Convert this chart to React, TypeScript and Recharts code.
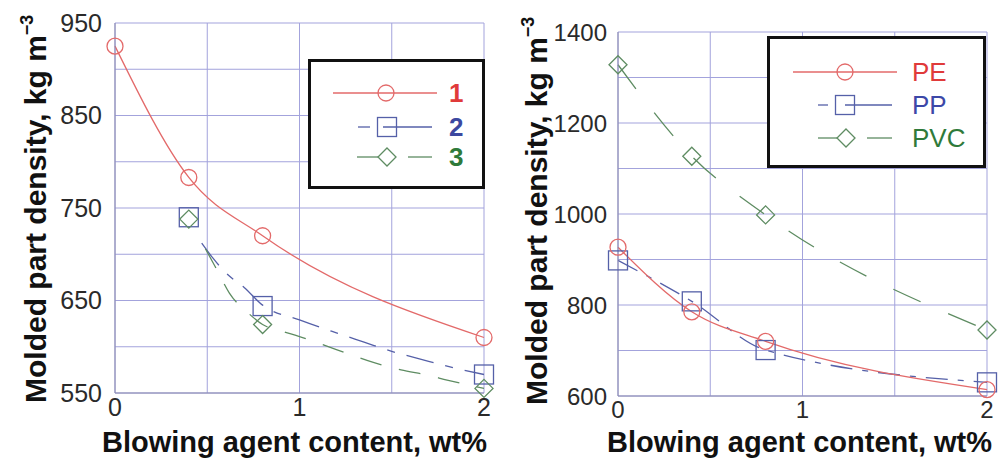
import React from "react";
import { ComposedChart, Line, XAxis, YAxis, CartesianGrid } from "recharts";

// left panel: samples 1, 2, 3
const leftX1 = [0, 0.4, 0.8, 2];
const leftY1 = [925, 783, 720, 610];
const leftX2 = [0.4, 0.8, 2];
const leftY2 = [740, 644, 570];
const leftX3 = [0.4, 0.8, 2];
const leftY3 = [738, 624, 555];
// fitted dashed curves
const fitX2 = [0.47, 0.53, 0.6, 0.7, 0.8, 1.0, 1.2, 1.35, 1.5, 1.65, 1.8, 2.0];
const fitY2 = [712, 696, 680, 664, 645, 629, 615, 605, 595, 587, 579, 570];
const fitX3 = [0.49, 0.55, 0.62, 0.73, 0.8, 0.9, 1.0, 1.2, 1.4, 1.55, 1.7, 1.8, 2.0];
const fitY3 = [706, 684, 658, 635, 624, 617, 611, 597, 583, 575, 569, 564, 555];

// right panel: PE, PP, PVC
const rightX = [0, 0.4, 0.8, 2];
const peY = [927, 785, 720, 614];
const ppY = [898, 808, 701, 630];
const pvcY = [1328, 1127, 998, 745];

const leftYTicks = [550, 650, 750, 850, 950];
const leftYGrid = [550, 600, 650, 700, 750, 800, 850, 900, 950];
const rightYTicks = [600, 800, 1000, 1200, 1400];
const rightYGrid = [600, 700, 800, 900, 1000, 1100, 1200, 1300, 1400];
const xTicks = [0, 1, 2];
const xGrid = [0, 0.5, 1, 1.5, 2];

const RED = "#e36a6a";
const BLUE = "#5560a8";
const GREEN = "#5e8c62";
const GRID = "#a3a3dc";
const FONT = "'Liberation Sans', Arial, sans-serif";

const pts = (xs: number[], ys: number[]) => xs.map((x, i) => ({ x, y: ys[i] }));

const circleAt = (cx: number, cy: number, k?: any) => (
  <circle key={k} cx={cx} cy={cy} r={8} fill="none" stroke={RED} strokeWidth={1.3} />
);
const squareAt = (cx: number, cy: number, k?: any) => (
  <rect key={k} x={cx - 9.5} y={cy - 9.5} width={19} height={19} fill="none" stroke={BLUE} strokeWidth={1.3} />
);
const diamondAt = (cx: number, cy: number, k?: any) => (
  <polygon
    key={k}
    points={`${cx},${cy - 9} ${cx + 9},${cy} ${cx},${cy + 9} ${cx - 9},${cy}`}
    fill="none"
    stroke={GREEN}
    strokeWidth={1.3}
  />
);

const dotOf = (fn: any) => (p: any) => (p.cx == null ? <g key={p.index} /> : fn(p.cx, p.cy, p.index));

const axisTick = (size: number) => ({ fill: "#2a2a2a", fontSize: size });

// plot box: left panel x 115..484, y 23..393; right panel x 118..487, y 32..396
const Panel = ({ width, yDomain, yTicks, yGrid, tickSize, top, plotH, yWidth, yMargin, children }: any) => (
  <ComposedChart width={width} height={461} margin={{ top, right: 16, bottom: 461 - 30 - top - plotH, left: 0 }}>
    <CartesianGrid stroke={GRID} strokeWidth={1} horizontalValues={yGrid} verticalValues={xGrid} />
    <XAxis
      type="number"
      dataKey="x"
      domain={[0, 2]}
      ticks={xTicks}
      height={30}
      tick={axisTick(tickSize)}
      tickLine={false}
      tickSize={4}
      tickMargin={1}
      axisLine={{ stroke: "#8a8ab0" }}
    />
    <YAxis
      type="number"
      domain={yDomain}
      ticks={yTicks}
      interval={0}
      width={yWidth}
      tick={axisTick(tickSize)}
      tickLine={false}
      tickSize={6}
      tickMargin={yMargin}
      axisLine={{ stroke: "#8a8ab0" }}
    />
    {children}
  </ComposedChart>
);

const markerLine = (data: any[], fn: any, key: string) => (
  <Line
    key={key}
    data={data}
    dataKey="y"
    stroke="none"
    dot={dotOf(fn)}
    activeDot={false}
    isAnimationActive={false}
  />
);

const yTitle = (x: number, y: number) => (
  <text transform={`translate(${x},${y}) rotate(-90)`} fontSize={30} fontWeight="bold" fill="#111">
    Molded part density, kg m
    <tspan dy={-13} fontSize={18}>
      −3
    </tspan>
  </text>
);

const App = () => {
  return (
    <div
      style={{
        position: "absolute",
        left: 0,
        top: 0,
        width: 1003,
        height: 461,
        background: "#fff",
        fontFamily: FONT,
        overflow: "hidden",
      }}
    >
      <div style={{ position: "absolute", left: 0, top: 0 }}>
        <Panel width={500} yDomain={[550, 950]} yTicks={leftYTicks} yGrid={leftYGrid} tickSize={25} top={23} plotH={370} yWidth={115} yMargin={7}>
          <Line data={pts(leftX1, leftY1)} dataKey="y" type="monotone" stroke={RED} strokeWidth={1.3} dot={dotOf(circleAt)} activeDot={false} isAnimationActive={false} />
          <Line data={pts(fitX2, fitY2)} dataKey="y" type="monotone" stroke={BLUE} strokeWidth={1.3} strokeDasharray="28 12 8 12" dot={false} activeDot={false} isAnimationActive={false} />
          <Line data={pts(fitX3, fitY3)} dataKey="y" type="monotone" stroke={GREEN} strokeWidth={1.3} strokeDasharray="22 18" dot={false} activeDot={false} isAnimationActive={false} />
          {markerLine(pts(leftX2, leftY2), squareAt, "m2")}
          {markerLine(pts(leftX3, leftY3), diamondAt, "m3")}
        </Panel>
      </div>
      <div style={{ position: "absolute", left: 500, top: 0 }}>
        <Panel width={503} yDomain={[600, 1400]} yTicks={rightYTicks} yGrid={rightYGrid} tickSize={24} top={32} plotH={364} yWidth={118} yMargin={5}>
          <Line data={pts(rightX, pvcY)} dataKey="y" type="monotone" stroke={GREEN} strokeWidth={1.3} strokeDasharray="30 30" dot={dotOf(diamondAt)} activeDot={false} isAnimationActive={false} />
          <Line data={pts(rightX, ppY)} dataKey="y" type="monotone" stroke={BLUE} strokeWidth={1.3} strokeDasharray="22 10 6 10" dot={dotOf(squareAt)} activeDot={false} isAnimationActive={false} />
          <Line data={pts(rightX, peY)} dataKey="y" type="monotone" stroke={RED} strokeWidth={1.3} dot={dotOf(circleAt)} activeDot={false} isAnimationActive={false} />
        </Panel>
      </div>
      <svg width={1003} height={461} style={{ position: "absolute", left: 0, top: 0, pointerEvents: "none", fontFamily: FONT }}>
        {yTitle(46, 403)}
        {yTitle(547, 405)}
        <text x={102} y={452} fontSize={29} fontWeight="bold" fill="#111">
          Blowing agent content, wt%
        </text>
        <text x={607} y={452} fontSize={29} fontWeight="bold" fill="#111">
          Blowing agent content, wt%
        </text>

        {/* left legend */}
        <rect x={309.5} y={60.5} width={174} height={127} fill="#fff" stroke="#111" strokeWidth={3} />
        <line x1={333} x2={437} y1={93} y2={93} stroke={RED} strokeWidth={1.3} />
        {circleAt(386, 93)}
        <text x={449} y={102} fontSize={26} fontWeight="bold" fill="#e03a3a">1</text>
        <line x1={358} x2={370} y1={127} y2={127} stroke={BLUE} strokeWidth={1.3} />
        <line x1={383} x2={432} y1={127} y2={127} stroke={BLUE} strokeWidth={1.3} />
        {squareAt(387, 127)}
        <text x={449} y={136} fontSize={26} fontWeight="bold" fill="#3c48a0">2</text>
        <line x1={357} x2={378} y1={157} y2={157} stroke={GREEN} strokeWidth={1.3} />
        <line x1={408} x2={432} y1={157} y2={157} stroke={GREEN} strokeWidth={1.3} />
        {diamondAt(387, 157)}
        <text x={449} y={166} fontSize={26} fontWeight="bold" fill="#2f7a3a">3</text>

        {/* right legend */}
        <rect x={768.5} y={37.5} width={216} height={129} fill="#fff" stroke="#111" strokeWidth={3} />
        <line x1={793} x2={897} y1={72} y2={72} stroke={RED} strokeWidth={1.3} />
        {circleAt(845, 72)}
        <text x={912} y={81} fontSize={26} fill="#e03a3a">PE</text>
        <line x1={818} x2={828} y1={105} y2={105} stroke={BLUE} strokeWidth={1.3} />
        <line x1={845} x2={892} y1={105} y2={105} stroke={BLUE} strokeWidth={1.3} />
        {squareAt(845, 105)}
        <text x={912} y={114} fontSize={26} fill="#3c48a8">PP</text>
        <line x1={818} x2={838} y1={138} y2={138} stroke={GREEN} strokeWidth={1.3} />
        <line x1={867} x2={892} y1={138} y2={138} stroke={GREEN} strokeWidth={1.3} />
        {diamondAt(846, 138)}
        <text x={912} y={147} fontSize={26} fill="#2f7a3a">PVC</text>
      </svg>
    </div>
  );
};

export default App;
